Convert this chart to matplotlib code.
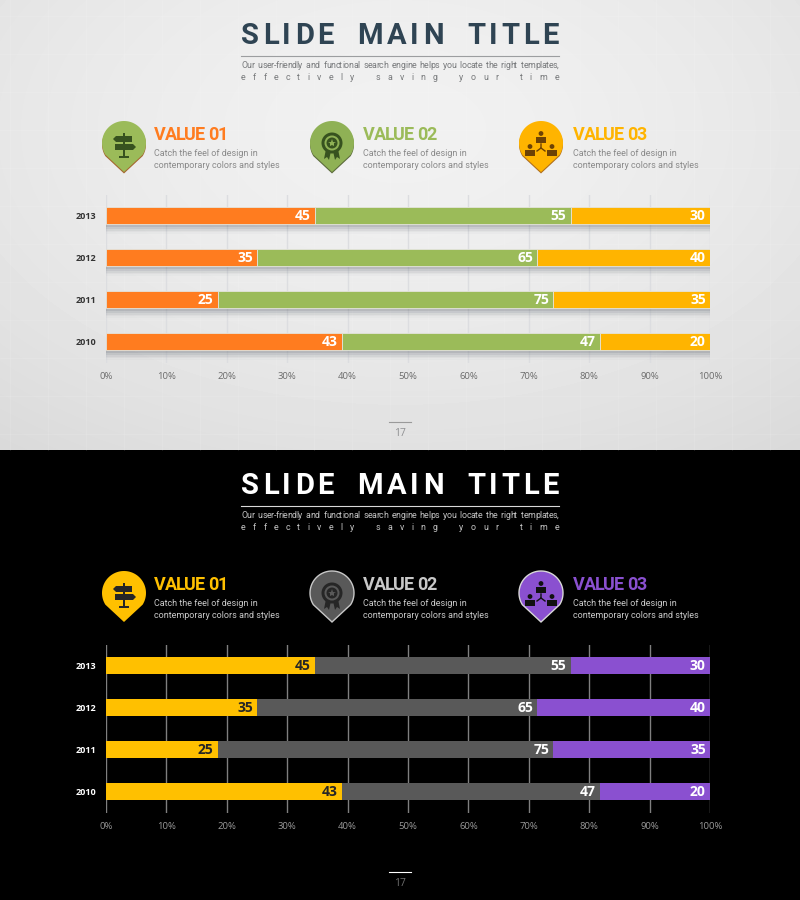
import numpy as np
import matplotlib
matplotlib.use("Agg")
import matplotlib.pyplot as plt
from matplotlib.font_manager import FontProperties
from matplotlib.patches import Circle, Polygon, Rectangle, PathPatch
from matplotlib.path import Path
from matplotlib.textpath import TextToPath

years = ["2010", "2011", "2012", "2013"]
value_01 = [43, 25, 35, 45]
value_02 = [47, 75, 65, 55]
value_03 = [20, 35, 40, 30]
pct_labels = ["0%", "10%", "20%", "30%", "40%", "50%", "60%", "70%", "80%", "90%", "100%"]
series_names = ["VALUE 01", "VALUE 02", "VALUE 03"]
title = "SLIDE MAIN TITLE"
sub_1 = "Our user-friendly and functional search engine helps you locate the right templates,"
sub_2 = "effectively saving your time"
desc_1 = "Catch the feel of design in"
desc_2 = "contemporary colors and styles"
page_no = "17"

HEAD = "Roboto"
BODY = "Open Sans"

fig = plt.figure(figsize=(8, 9), dpi=100)
bg = fig.add_axes([0, 0, 1, 1])
bg.set_xlim(0, 800)
bg.set_ylim(900, 0)
bg.axis("off")
ttp = TextToPath()


def spaced_text(s, x0, x1, y, size, color, weight="normal", space=0.3):
    # spread letters so the string fills x0..x1
    prop = FontProperties(family=HEAD, size=size, weight=weight)
    px = 100 / 72
    widths = []
    for c in s:
        if c == " ":
            widths.append(size * px * space)
        else:
            widths.append(ttp.get_text_width_height_descent(c, prop, False)[0] * px)
    gap = (x1 - x0 - sum(widths)) / (len(s) - 1)
    x = x0
    for c, w in zip(s, widths):
        if c != " ":
            bg.text(x, y, c, fontproperties=prop, color=color, ha="left", va="center_baseline")
        x += w + gap


def pin_path(cx, cy, r, tip):
    t = np.radians(np.linspace(-32, 212, 60))
    xs = cx + r * np.cos(t)
    ys = cy - r * np.sin(t)
    pts = list(zip(xs, ys)) + [(cx, cy + tip), (xs[0], ys[0])]
    return Path(pts)


def pin(cx, cy, color, edge=None, shadow=None):
    r = 22
    tip = 29
    if shadow:
        bg.add_patch(PathPatch(pin_path(cx, cy + 1.5, r, tip), fc=shadow, ec="none", zorder=2))
    bg.add_patch(PathPatch(pin_path(cx, cy, r, tip), fc=color, ec=edge or "none",
                           lw=1.0 if edge else 0, zorder=3))


def icon_sign(cx, cy, c):
    bg.add_patch(Rectangle((cx - 1.2, cy - 13), 2.4, 24, fc=c, zorder=4))
    bg.add_patch(Polygon([(cx - 11, cy - 7), (cx - 8, cy - 10), (cx + 8, cy - 10), (cx + 8, cy - 4), (cx - 8, cy - 4)], fc=c, zorder=4))
    bg.add_patch(Polygon([(cx - 9, cy - 2), (cx + 9, cy - 2), (cx + 12, cy + 1), (cx + 9, cy + 4), (cx - 9, cy + 4)], fc=c, zorder=4))
    bg.add_patch(Rectangle((cx - 5, cy + 10), 10, 2, fc=c, zorder=4))


def icon_medal(cx, cy, c, inner):
    bg.add_patch(Polygon([(cx - 6, cy + 3), (cx - 1, cy + 5), (cx - 3, cy + 14), (cx - 5, cy + 11), (cx - 8, cy + 13)], fc=c, zorder=4))
    bg.add_patch(Polygon([(cx + 6, cy + 3), (cx + 1, cy + 5), (cx + 3, cy + 14), (cx + 5, cy + 11), (cx + 8, cy + 13)], fc=c, zorder=4))
    bg.add_patch(Circle((cx, cy - 3), 10.5, fc=c, zorder=4))
    bg.add_patch(Circle((cx, cy - 3), 7.5, fc=inner, zorder=5))
    bg.add_patch(Circle((cx, cy - 3), 5.5, fc=c, zorder=6))
    bg.plot([cx], [cy - 3], marker="*", ms=6, color=inner, mew=0, zorder=7)


def person(cx, cy, c):
    bg.add_patch(Circle((cx, cy - 3.5), 2.4, fc=c, zorder=4))
    bg.add_patch(Rectangle((cx - 5, cy - 0.5), 10, 6, fc=c, zorder=4))


def icon_people(cx, cy, c):
    person(cx, cy - 8, c)
    person(cx - 11, cy + 5, c)
    person(cx + 11, cy + 5, c)
    bg.plot([cx, cx, cx - 4], [cy - 1, cy + 3, cy + 6], color=c, lw=1, zorder=4)
    bg.plot([cx, cx + 4], [cy + 3, cy + 6], color=c, lw=1, zorder=4)


def stacked(top_px, colors, txt_colors, tick_color, year_color, grid_color, shadow):
    ax = fig.add_axes([106 / 800, 1 - (top_px + 168) / 900, 604 / 800, 168 / 900])
    ax.patch.set_alpha(0)
    a, b, c = np.array(value_01, float), np.array(value_02, float), np.array(value_03, float)
    tot = a + b + c
    pa, pb, pc = a / tot * 100, b / tot * 100, c / tot * 100
    y = np.arange(len(years))
    ax.set_axisbelow(True)
    ax.grid(axis="x", color=grid_color, lw=1)
    if shadow:
        # soft drop shadow under each bar
        for off, al in zip([0.08, 0.12, 0.16, 0.20, 0.24], [0.16, 0.12, 0.08, 0.05, 0.03]):
            ax.barh(y - off, 100, height=0.4, color="#666c76", alpha=al, lw=0)
    edge = "#e4e4dc" if shadow else "none"
    h = 17 / 42
    ax.barh(y, pa, height=h, color=colors[0], edgecolor=edge, lw=0.6)
    ax.barh(y, pb, left=pa, height=h, color=colors[1], edgecolor=edge, lw=0.6)
    ax.barh(y, pc, left=pa + pb, height=h, color=colors[2], edgecolor=edge, lw=0.6)
    for i in y:
        ends = [pa[i], pa[i] + pb[i], 100]
        for end, val, col in zip(ends, [a[i], b[i], c[i]], txt_colors):
            ax.text(end - 0.7, i - 0.01, f"{int(val)}", color=col, ha="right", va="center",
                    fontsize=10, fontweight="bold", family=BODY)
    ax.set_xlim(0, 100)
    ax.set_ylim(-0.5, 3.5)
    ax.set_xticks(np.arange(0, 101, 10))
    ax.set_xticklabels(pct_labels, fontsize=6.8, color=tick_color, family=BODY)
    ax.set_yticks(y)
    ax.set_yticklabels(years, fontsize=6.5, color=year_color, fontweight="bold", family=BODY)
    ax.tick_params(axis="x", length=0, pad=7)
    ax.tick_params(axis="y", length=0, pad=7)
    for s in ax.spines.values():
        s.set_visible(False)
    return ax


# light panel background with a soft vignette
yy, xx = np.mgrid[0:450, 0:800]
dist = np.sqrt(((xx - 400) / 620) ** 2 + ((yy - 130) / 380) ** 2)
bg.imshow(np.clip(0.945 - 0.085 * dist ** 1.6, 0, 1), cmap="gray", vmin=0, vmax=1,
          extent=(0, 800, 450, 0), aspect="auto", zorder=0)
bg.add_patch(Rectangle((0, 450), 800, 450, fc="black", ec="none", zorder=0))
bg.set_xlim(0, 800)
bg.set_ylim(900, 0)
for gx in range(10, 800, 38):
    bg.plot([gx, gx], [0, 450], color="white", lw=0.6, alpha=0.12, zorder=1)
for gy in range(16, 450, 38):
    bg.plot([0, 800], [gy, gy], color="white", lw=0.6, alpha=0.12, zorder=1)

panels = [
    dict(dy=0, title="#2f4453", rule="#9c9ea0", sub="#77797b", desc="#8a8a8a", foot="#8f9092", footline="#9a9a9a",
         heads=["#FF7C1F", "#9BBB59", "#FFB400"],
         bars=["#FF7C1F", "#9BBB59", "#FFB400"], txt=["white", "white", "white"],
         tick="#6b6b6b", year="#333333", grid="#dcdde0", shadow=True,
         pins=["#9BBB59", "#8FB155", "#FFB400"], pin_edge=[None, None, None],
         pin_sh=["#a5672f", "#5c6b3c", "#b06f1c"], glyph=["#37521f", "#37521f", "#6d4205"]),
    dict(dy=450, title="#ffffff", rule="#d9d9d9", sub="#c4c4c4", desc="#c9c9c9", foot="#6f6f6f", footline="#ffffff",
         heads=["#FFC000", "#C8C8C8", "#8A50D0"],
         bars=["#FFC000", "#595959", "#8A50D0"], txt=["#262626", "white", "white"],
         tick="#9a9a9a", year="white", grid="#7f7f7f", shadow=False,
         pins=["#FFC000", "#595959", "#8A50D0"], pin_edge=[None, "#c8c8c8", "#d8d8d8"],
         pin_sh=[None, None, None], glyph=["#262626", "#262626", "#111111"]),
]

pin_x = [124, 332, 541]
text_x = [154, 363, 573]
for p in panels:
    dy = p["dy"]
    spaced_text(title, 241, 559, 33.5 + dy, 21, p["title"], weight="bold", space=0.55)
    bg.plot([241, 559], [56 + dy, 56 + dy], color=p["rule"], lw=0.8, zorder=2)
    spaced_text(sub_1, 241, 559, 64.5 + dy, 6.4, p["sub"], space=0.45)
    spaced_text(sub_2, 241, 559, 76 + dy, 6.4, p["sub"], space=0.8)
    for i in range(3):
        pin(pin_x[i], 143 + dy, p["pins"][i], p["pin_edge"][i], p["pin_sh"][i])
        spaced_text(series_names[i], text_x[i], text_x[i] + 74, 132.5 + dy, 13, p["heads"][i], weight="bold", space=0.35)
        bg.text(text_x[i], 153 + dy, desc_1, family=HEAD, fontsize=6.5, color=p["desc"], va="center", zorder=3)
        bg.text(text_x[i], 165 + dy, desc_2, family=HEAD, fontsize=6.5, color=p["desc"], va="center", zorder=3)
    icon_sign(pin_x[0], 146 + dy, p["glyph"][0])
    icon_medal(pin_x[1], 146 + dy, p["glyph"][1], p["pins"][1])
    icon_people(pin_x[2], 145 + dy, p["glyph"][2])
    bg.plot([389, 411], [421.5 + dy, 421.5 + dy], color=p["footline"], lw=0.8, zorder=2)
    bg.text(400, 433.5 + dy, page_no, family=BODY, fontsize=7.5, color=p["foot"], ha="center", va="center", zorder=2)
    stacked(194.5 + dy, p["bars"], p["txt"], p["tick"], p["year"], p["grid"], p["shadow"])

fig.savefig("out.png", dpi=100)
